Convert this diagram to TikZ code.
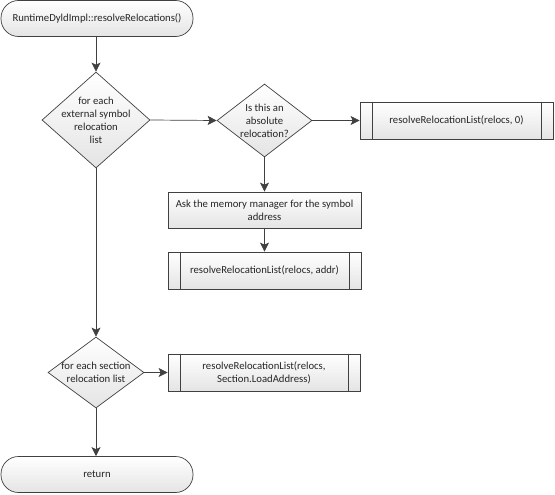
\documentclass[tikz,border=0pt]{standalone}
\usepackage{fontspec}
\setmainfont{Carlito}
\usetikzlibrary{shapes.geometric,arrows.meta}
\definecolor{edge}{HTML}{404040}
\definecolor{fillbot}{HTML}{E4E4E4}
\tikzset{
  every node/.style={font=\fontsize{10.7}{13}\selectfont, text=black!85},
  shade/.style={top color=white, bottom color=fillbot, draw=edge, line width=0.7pt},
  term/.style={shade, rounded corners=17.5pt, minimum width=192pt, minimum height=36pt, inner sep=0pt},
  dec/.style={shade, diamond, inner sep=0pt, align=center},
  proc/.style={shade, rectangle, align=center, inner sep=0pt},
  flow/.style={draw=edge, line width=0.7pt, -{Stealth[length=9pt,width=9pt,inset=2pt]}},
}
\begin{document}
\begin{tikzpicture}[x=1pt,y=-1pt]
\useasboundingbox (0,0) rectangle (555,495);
\node[term] (start) at (97,18.5) {RuntimeDyldImpl::resolveRelocations()};
\node[dec, minimum width=108pt, minimum height=96pt] (d1) at (96,120) {};
\node[align=center] at (96,120) {for each\\external symbol\\relocation\\list};
\node[dec, minimum width=95pt, minimum height=73pt] (d2) at (264.5,120.5) {};
\node[align=center] at (264.5,120.5) {Is this an\\absolute\\relocation?};
\node[proc, minimum width=193pt, minimum height=37pt] (p0) at (456.5,120.5) {resolveRelocationList(relocs, 0)};
\draw[edge, line width=0.7pt] ([xshift=12.5pt]p0.north west) -- ([xshift=12.5pt]p0.south west)
  ([xshift=-12.5pt]p0.north east) -- ([xshift=-12.5pt]p0.south east);
\node[proc, minimum width=193pt, minimum height=36pt] (ask) at (264.5,210) {Ask the memory manager for the symbol\\address};
\node[proc, minimum width=193pt, minimum height=37pt] (pa) at (264.5,270.5) {resolveRelocationList(relocs, addr)};
\draw[edge, line width=0.7pt] ([xshift=12.5pt]pa.north west) -- ([xshift=12.5pt]pa.south west)
  ([xshift=-12.5pt]pa.north east) -- ([xshift=-12.5pt]pa.south east);
\node[dec, minimum width=96pt, minimum height=71pt] (d3) at (96,372.5) {};
\node[align=center] at (96,372.5) {for each section\\relocation list};
\node[proc, minimum width=192pt, minimum height=37pt] (ps) at (264,372.5) {resolveRelocationList(relocs,\\Section.LoadAddress)};
\draw[edge, line width=0.7pt] ([xshift=12.5pt]ps.north west) -- ([xshift=12.5pt]ps.south west)
  ([xshift=-12.5pt]ps.north east) -- ([xshift=-12.5pt]ps.south east);
\node[term] (ret) at (97,474.5) {return};
\draw[flow] (start.south -| d1.north) -- (d1.north);
\draw[flow] (d1.east) -- (d2.west);
\draw[flow] (d2.east) -- (p0.west);
\draw[flow] (d2.south) -- (ask.north);
\draw[flow] (ask.south) -- (pa.north);
\draw[flow] (d1.south) -- (d3.north);
\draw[flow] (d3.east) -- (ps.west);
\draw[flow] (d3.south) -- (ret.north -| d3.south);
\end{tikzpicture}
\end{document}
